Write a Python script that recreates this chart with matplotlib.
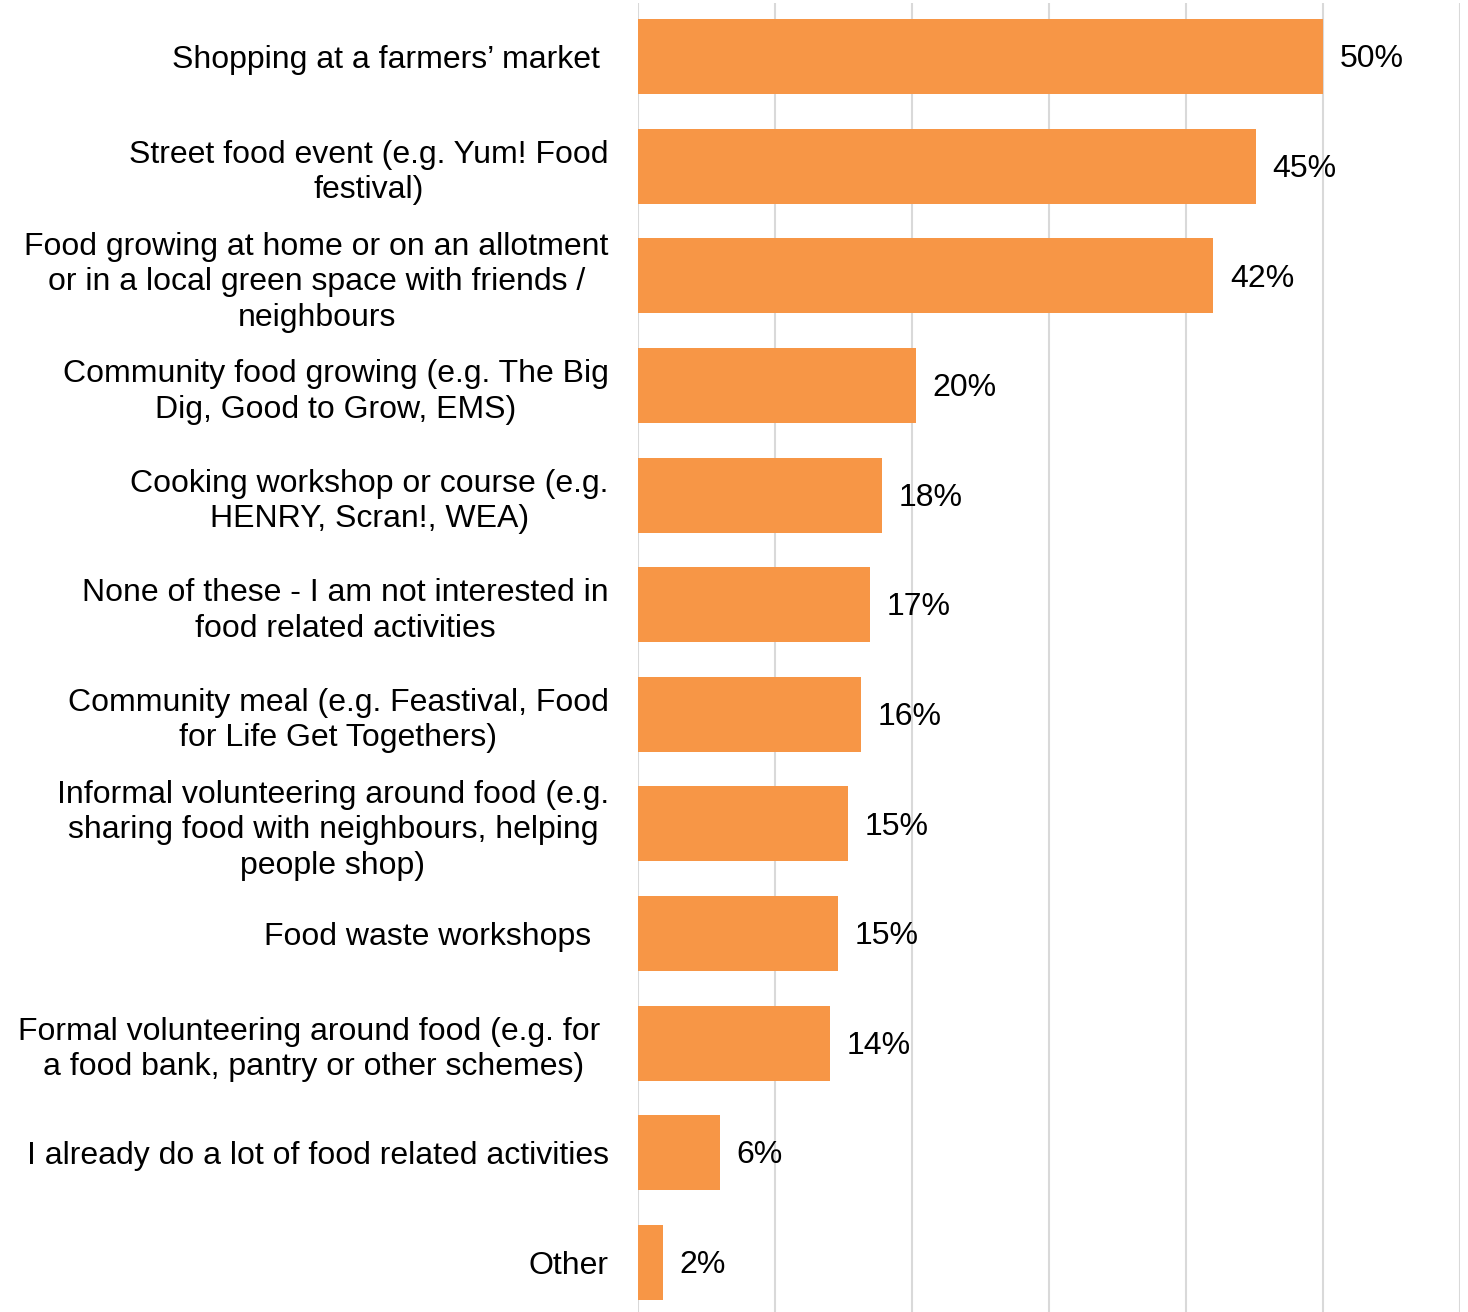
import matplotlib.pyplot as plt

plt.rcParams['font.family'] = ['Liberation Sans', 'DejaVu Sans']

activities = [
    'Shopping at a farmers\u2019 market ',
    'Street food event (e.g. Yum! Food\nfestival)',
    'Food growing at home or on an allotment\nor in a local green space with friends /\nneighbours',
    'Community food growing (e.g. The Big\nDig, Good to Grow, EMS)',
    'Cooking workshop or course (e.g.\nHENRY, Scran!, WEA)',
    'None of these - I am not interested in\nfood related activities',
    'Community meal (e.g. Feastival, Food\nfor Life Get Togethers)',
    'Informal volunteering around food (e.g.\nsharing food with neighbours, helping\npeople shop)',
    'Food waste workshops  ',
    'Formal volunteering around food (e.g. for \na food bank, pantry or other schemes)',
    'I already do a lot of food related activities',
    'Other',
]
share = [50.0, 45.1, 42.0, 20.3, 17.8, 16.9, 16.3, 15.3, 14.6, 14.0, 6.0, 1.8]

fig = plt.figure(figsize=(14.68, 13.12), dpi=100)
ax = fig.add_axes([638 / 1468, 0, (1460 - 638) / 1468, 1 - 3 / 1312])

pos = list(range(len(activities)))
bars = ax.barh(pos, share, height=0.685, color='#F79646', zorder=2)

for b, v in zip(bars, share):
    ax.annotate(f'{v:.0f}%', xy=(b.get_width(), b.get_y() + b.get_height() / 2),
                xytext=(12, -2), textcoords='offset points',
                ha='left', va='center', fontsize=23, color='black')

ax.set_xlim(0, 60)
ax.set_ylim(11.454, -0.49)
ax.set_xticks(range(0, 61, 10))
ax.set_xticklabels([])
ax.tick_params(axis='x', length=0)
ax.grid(axis='x', color='#D9D9D9', lw=1.5, zorder=0)

ax.set_yticks(pos)
ax.set_yticklabels(activities, fontsize=23, multialignment='center', linespacing=1.24)
ax.tick_params(axis='y', length=0, pad=21)
for t in ax.get_yticklabels():
    t.set_y(t.get_position()[1])

for s in ax.spines.values():
    s.set_visible(False)

fig.savefig('out.png', dpi=100)
